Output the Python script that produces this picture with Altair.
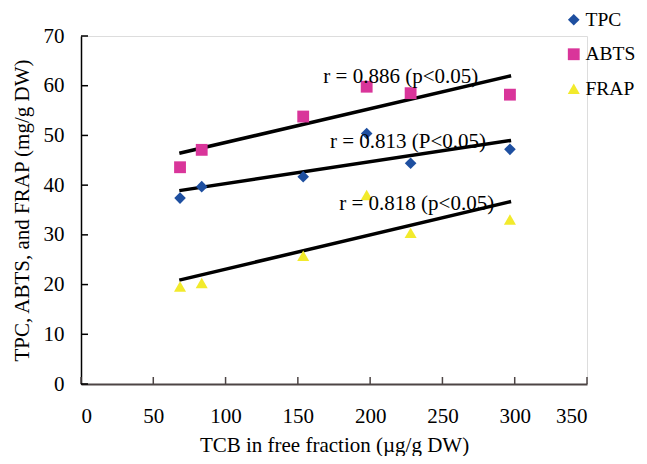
import altair as alt
import pandas as pd

# ---- data ----
tcb = [68.5, 83.5, 153.7, 197.6, 228.0, 296.7]
tpc = [37.4, 39.7, 41.7, 50.4, 44.4, 47.2]
abts = [43.6, 47.1, 53.8, 59.8, 58.5, 58.2]
frap = [19.6, 20.3, 25.8, 38.0, 30.4, 33.1]

series = ["TPC", "ABTS", "FRAP"]
colors = ["#1E4FA0", "#D9359A", "#F2EA2C"]
shapes = ["diamond", "square", "triangle-up"]
sizes = [135, 145, 165]

fit_x = [68.0, 297.5]
fit_tpc = [38.9, 49.0]
fit_abts = [46.4, 62.0]
fit_frap = [20.9, 36.7]

ann_text = ["r = 0.886 (p<0.05)", "r = 0.813 (P<0.05)", "r = 0.818 (p<0.05)"]
ann_x = [167.6, 172.2, 178.6]
ann_y = [60.5, 47.4, 35.0]

x_ticks = [0, 50, 100, 150, 200, 250, 300, 350]
y_ticks = [0, 10, 20, 30, 40, 50, 60, 70]

FONT = "Liberation Serif"
W, H = 506, 348

pts = pd.DataFrame(
    [{"x": x, "v": v, "s": s}
     for s, vals in zip(series, [tpc, abts, frap])
     for x, v in zip(tcb, vals)]
)
fits = pd.DataFrame(
    [{"x": x, "v": v, "s": s}
     for s, vals in zip(series, [fit_tpc, fit_abts, fit_frap])
     for x, v in zip(fit_x, vals)]
)
ann = pd.DataFrame({"x": ann_x, "v": ann_y, "t": ann_text})
xt = pd.DataFrame({"x": x_ticks})
yt = pd.DataFrame({"v": y_ticks})

xscale = alt.Scale(domain=[0, 350], nice=False)
yscale = alt.Scale(domain=[0, 70], nice=False)

xaxis = alt.Axis(
    values=x_ticks, ticks=False, grid=False,
    domainColor="#4d4545", domainWidth=2,
    labelFont=FONT, labelFontSize=21, labelColor="black",
    labelBaseline="alphabetic", labelPadding=38,
    title="TCB in free fraction (µg/g DW)",
    titleFont=FONT, titleFontSize=21, titleFontWeight="normal", titleColor="black",
    titleBaseline="alphabetic", titleY=67,
)
yaxis = alt.Axis(
    values=y_ticks, ticks=False, grid=False,
    domainColor="black", domainWidth=1.5,
    labelFont=FONT, labelFontSize=21, labelColor="black",
    labelPadding=17,
    title="TPC, ABTS, and FRAP (mg/g DW)",
    titleFont=FONT, titleFontSize=21, titleFontWeight="normal", titleColor="black",
    titleBaseline="alphabetic", titleX=-53,
)

points = alt.Chart(pts).mark_point(filled=True, opacity=1).encode(
    x=alt.X("x:Q", scale=xscale, axis=xaxis),
    y=alt.Y("v:Q", scale=yscale, axis=yaxis),
    color=alt.Color(
        "s:N", scale=alt.Scale(domain=series, range=colors),
        legend=alt.Legend(
            title=None, orient="none", legendX=483, legendY=-26,
            labelFont=FONT, labelFontSize=19.5, labelColor="black",
            symbolSize=150, rowPadding=13.5, labelOffset=2, padding=0,
            symbolStrokeWidth=0,
        ),
    ),
    shape=alt.Shape("s:N", scale=alt.Scale(domain=series, range=shapes)),
    size=alt.Size("s:N", scale=alt.Scale(domain=series, range=sizes), legend=None),
)

lines = alt.Chart(fits).mark_line(color="black", strokeWidth=3.5).encode(
    x=alt.X("x:Q", scale=xscale),
    y=alt.Y("v:Q", scale=yscale),
    detail="s:N",
)

texts = alt.Chart(ann).mark_text(
    align="left", baseline="alphabetic", font=FONT, fontSize=21, color="black"
).encode(
    x=alt.X("x:Q", scale=xscale),
    y=alt.Y("v:Q", scale=yscale),
    text="t:N",
)

xticks = alt.Chart(xt).mark_rule(color="#4d4545", strokeWidth=1.5).encode(
    x=alt.X("x:Q", scale=xscale), y=alt.value(H), y2=alt.value(H - 7)
)
yticks = alt.Chart(yt).mark_rule(color="black", strokeWidth=1.5).encode(
    y=alt.Y("v:Q", scale=yscale), x=alt.value(0), x2=alt.value(7)
)

chart = (
    alt.layer(xticks, yticks, lines, points, texts)
    .properties(
        width=W, height=H,
        autosize=alt.AutoSizeParams(type="none"),
        padding={"left": 73, "top": 28, "right": 52, "bottom": 72},
    )
    .configure_view(strokeWidth=0)
    .configure(background="white")
)

chart.save("out.html", embed_options={"renderer": "svg", "actions": False})
